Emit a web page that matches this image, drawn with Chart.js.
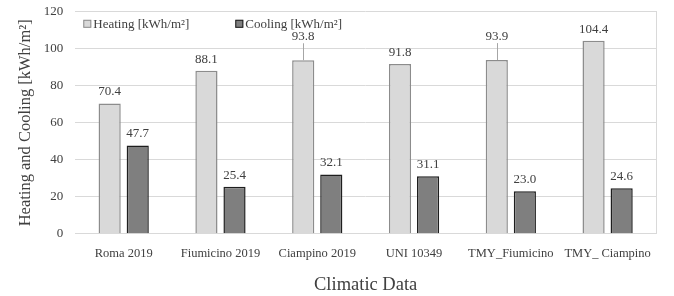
<!DOCTYPE html>
<html>
<head>
<meta charset="utf-8">
<script src="https://cdn.jsdelivr.net/npm/chart.js@4.4.1/dist/chart.umd.min.js"></script>
<style>
  html, body { margin: 0; padding: 0; background: #fff; }
  #wrap { width: 674px; height: 296px; position: relative; }
</style>
</head>
<body>
<div id="wrap"><canvas id="energyChart"></canvas></div>
<script>
// ---- data ----
const categories = ['Roma 2019', 'Fiumicino 2019', 'Ciampino 2019', 'UNI 10349', 'TMY_Fiumicino', 'TMY_ Ciampino'];
const heating = [70.4, 88.1, 93.8, 91.8, 93.9, 104.4];
const cooling = [47.7, 25.4, 32.1, 31.1, 23.0, 24.6];
const yTicks = [0, 20, 40, 60, 80, 100, 120];

const serif = '"Liberation Serif", "Times New Roman", serif';
const textColor = '#404040';

// labels pushed up further (with a leader line) where Excel moved them
const labelLift = { 0: [0, 0, 12, 0, 12, 0], 1: [0, 0, 0, 0, 0, 0] };

const valueLabels = {
  id: 'valueLabels',
  afterDatasetsDraw(chart) {
    const ctx = chart.ctx;
    ctx.save();
    ctx.font = '13px ' + serif;
    ctx.fillStyle = textColor;
    ctx.textAlign = 'center';
    ctx.textBaseline = 'bottom';
    chart.data.datasets.forEach((ds, di) => {
      const meta = chart.getDatasetMeta(di);
      meta.data.forEach((bar, i) => {
        const lift = labelLift[di][i];
        const ty = bar.y - 5 - lift;
        if (lift > 0) {
          ctx.strokeStyle = '#a6a6a6';
          ctx.lineWidth = 1;
          ctx.beginPath();
          ctx.moveTo(Math.round(bar.x) + 0.5, ty);
          ctx.lineTo(Math.round(bar.x) + 0.5, bar.y);
          ctx.stroke();
        }
        ctx.fillText(ds.data[i].toFixed(1), bar.x, ty);
      });
    });
    ctx.restore();
  }
};

// legend drawn inside the plot area, like the Excel original
const innerLegend = {
  id: 'innerLegend',
  afterDraw(chart) {
    const ctx = chart.ctx;
    const area = chart.chartArea;
    const starts = [8, 160];
    ctx.save();
    ctx.font = '13px ' + serif;
    ctx.textBaseline = 'middle';
    ctx.textAlign = 'left';
    chart.data.datasets.forEach((ds, i) => {
      const x = area.left + starts[i];
      const y = area.top + 12;
      ctx.fillStyle = ds.backgroundColor;
      ctx.fillRect(x, y - 4, 8, 8);
      ctx.strokeStyle = ds.borderColor;
      ctx.lineWidth = 1;
      ctx.strokeRect(x + 0.5, y - 3.5, 7, 7);
      ctx.fillStyle = textColor;
      ctx.fillText(ds.label, x + 10, y + 1);
    });
    ctx.restore();
  }
};

new Chart(document.getElementById('energyChart'), {
  type: 'bar',
  data: {
    labels: categories,
    datasets: [
      {
        label: 'Heating [kWh/m²]',
        data: heating,
        backgroundColor: '#d9d9d9',
        borderColor: '#8c8c8c',
        borderWidth: 1.5,
        categoryPercentage: 0.58,
        barPercentage: 0.79
      },
      {
        label: 'Cooling [kWh/m²]',
        data: cooling,
        backgroundColor: '#7f7f7f',
        borderColor: '#1e1e1e',
        borderWidth: 1.5,
        categoryPercentage: 0.58,
        barPercentage: 0.79
      }
    ]
  },
  options: {
    responsive: true,
    maintainAspectRatio: false,
    animation: false,
    layout: { padding: { top: 0, right: 18, left: 12, bottom: 0 } },
    plugins: {
      legend: { display: false },
      tooltip: { enabled: false }
    },
    scales: {
      x: {
        grid: { display: false },
        border: { color: '#d9d9d9' },
        ticks: { font: { family: serif, size: 12.5 }, color: textColor, padding: 4 },
        title: {
          display: true,
          text: 'Climatic Data',
          font: { family: serif, size: 18.5 },
          color: textColor,
          padding: { top: 9, bottom: 0 }
        }
      },
      y: {
        min: 0,
        max: 120,
        afterBuildTicks: axis => { axis.ticks = yTicks.map(v => ({ value: v })); },
        grid: { color: '#d9d9d9', drawTicks: true, tickLength: 8, tickColor: 'rgba(0,0,0,0)' },
        border: { display: false },
        ticks: { font: { family: serif, size: 13 }, color: textColor, padding: 4 },
        title: {
          display: true,
          text: 'Heating and Cooling [kWh/m²]',
          font: { family: serif, size: 16.5 },
          color: textColor,
          padding: { bottom: 4 }
        }
      },
      y2: {
        position: 'right',
        min: 0,
        max: 120,
        grid: { drawOnChartArea: false, drawTicks: false },
        border: { color: '#d9d9d9' },
        ticks: { display: false }
      }
    }
  },
  plugins: [valueLabels, innerLegend]
});
</script>
</body>
</html>
